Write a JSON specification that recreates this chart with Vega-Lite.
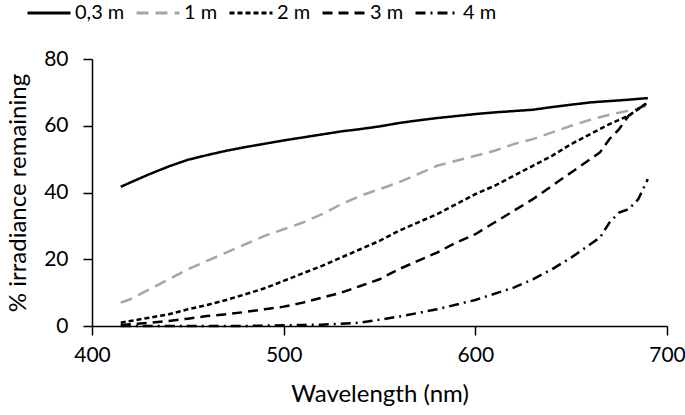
{
  "$schema": "https://vega.github.io/schema/vega-lite/v6.json",
  "width": 575,
  "height": 267,
  "autosize": {"type": "none"},
  "padding": {"left": 92, "top": 59, "right": 18, "bottom": 89},
  "background": "white",
  "config": {
    "view": {"stroke": null},
    "font": "Lato",
    "axis": {"grid": false, "domainColor": "#000", "tickColor": "#000", "domainWidth": 1.5, "tickWidth": 1.5, "tickSize": 9, "labelColor": "#000", "titleColor": "#000", "labelFont": "Lato", "titleFont": "Lato", "labelFontSize": 21, "titleFontSize": 24, "titleFontWeight": "normal", "labelFlush": false, "labelOverlap": false}
  },
  "datasets": {
    "d": [
      {"depth": "0,3 m", "wl": 415, "v": 41.7}, {"depth": "0,3 m", "wl": 420, "v": 43}, {"depth": "0,3 m", "wl": 430, "v": 45.5}, {"depth": "0,3 m", "wl": 440, "v": 47.8}, {"depth": "0,3 m", "wl": 450, "v": 49.8}, {"depth": "0,3 m", "wl": 460, "v": 51.2}, {"depth": "0,3 m", "wl": 470, "v": 52.5}, {"depth": "0,3 m", "wl": 480, "v": 53.6}, {"depth": "0,3 m", "wl": 490, "v": 54.6}, {"depth": "0,3 m", "wl": 500, "v": 55.6}, {"depth": "0,3 m", "wl": 510, "v": 56.5}, {"depth": "0,3 m", "wl": 520, "v": 57.4}, {"depth": "0,3 m", "wl": 530, "v": 58.3}, {"depth": "0,3 m", "wl": 540, "v": 59}, {"depth": "0,3 m", "wl": 550, "v": 59.8}, {"depth": "0,3 m", "wl": 560, "v": 60.8}, {"depth": "0,3 m", "wl": 570, "v": 61.6}, {"depth": "0,3 m", "wl": 580, "v": 62.3}, {"depth": "0,3 m", "wl": 590, "v": 62.9}, {"depth": "0,3 m", "wl": 600, "v": 63.5}, {"depth": "0,3 m", "wl": 610, "v": 64}, {"depth": "0,3 m", "wl": 620, "v": 64.4}, {"depth": "0,3 m", "wl": 630, "v": 64.8}, {"depth": "0,3 m", "wl": 640, "v": 65.6}, {"depth": "0,3 m", "wl": 650, "v": 66.3}, {"depth": "0,3 m", "wl": 660, "v": 67}, {"depth": "0,3 m", "wl": 670, "v": 67.4}, {"depth": "0,3 m", "wl": 680, "v": 67.8}, {"depth": "0,3 m", "wl": 690, "v": 68.3},
      {"depth": "1 m", "wl": 415, "v": 7}, {"depth": "1 m", "wl": 420, "v": 8}, {"depth": "1 m", "wl": 430, "v": 11}, {"depth": "1 m", "wl": 440, "v": 14}, {"depth": "1 m", "wl": 450, "v": 17}, {"depth": "1 m", "wl": 460, "v": 19.5}, {"depth": "1 m", "wl": 470, "v": 22}, {"depth": "1 m", "wl": 480, "v": 24.5}, {"depth": "1 m", "wl": 490, "v": 27}, {"depth": "1 m", "wl": 500, "v": 29}, {"depth": "1 m", "wl": 510, "v": 31}, {"depth": "1 m", "wl": 520, "v": 33.5}, {"depth": "1 m", "wl": 530, "v": 36.5}, {"depth": "1 m", "wl": 540, "v": 39}, {"depth": "1 m", "wl": 550, "v": 41}, {"depth": "1 m", "wl": 560, "v": 43}, {"depth": "1 m", "wl": 570, "v": 45.5}, {"depth": "1 m", "wl": 580, "v": 48}, {"depth": "1 m", "wl": 590, "v": 49.5}, {"depth": "1 m", "wl": 600, "v": 51}, {"depth": "1 m", "wl": 610, "v": 52.5}, {"depth": "1 m", "wl": 620, "v": 54.5}, {"depth": "1 m", "wl": 630, "v": 56}, {"depth": "1 m", "wl": 640, "v": 58}, {"depth": "1 m", "wl": 650, "v": 60}, {"depth": "1 m", "wl": 660, "v": 61.8}, {"depth": "1 m", "wl": 670, "v": 63.3}, {"depth": "1 m", "wl": 680, "v": 64.5}, {"depth": "1 m", "wl": 690, "v": 66},
      {"depth": "2 m", "wl": 415, "v": 1}, {"depth": "2 m", "wl": 420, "v": 1.5}, {"depth": "2 m", "wl": 430, "v": 2.5}, {"depth": "2 m", "wl": 440, "v": 3.5}, {"depth": "2 m", "wl": 450, "v": 5}, {"depth": "2 m", "wl": 460, "v": 6.3}, {"depth": "2 m", "wl": 470, "v": 7.8}, {"depth": "2 m", "wl": 480, "v": 9.5}, {"depth": "2 m", "wl": 490, "v": 11.3}, {"depth": "2 m", "wl": 500, "v": 13.5}, {"depth": "2 m", "wl": 510, "v": 15.8}, {"depth": "2 m", "wl": 520, "v": 18}, {"depth": "2 m", "wl": 530, "v": 20.5}, {"depth": "2 m", "wl": 540, "v": 23}, {"depth": "2 m", "wl": 550, "v": 25.5}, {"depth": "2 m", "wl": 560, "v": 28.5}, {"depth": "2 m", "wl": 570, "v": 31}, {"depth": "2 m", "wl": 580, "v": 33.5}, {"depth": "2 m", "wl": 590, "v": 36.5}, {"depth": "2 m", "wl": 600, "v": 39.5}, {"depth": "2 m", "wl": 610, "v": 42}, {"depth": "2 m", "wl": 620, "v": 45}, {"depth": "2 m", "wl": 630, "v": 48}, {"depth": "2 m", "wl": 640, "v": 51}, {"depth": "2 m", "wl": 650, "v": 54.5}, {"depth": "2 m", "wl": 660, "v": 57.5}, {"depth": "2 m", "wl": 670, "v": 60.5}, {"depth": "2 m", "wl": 680, "v": 63}, {"depth": "2 m", "wl": 690, "v": 67},
      {"depth": "3 m", "wl": 415, "v": 0.3}, {"depth": "3 m", "wl": 420, "v": 0.5}, {"depth": "3 m", "wl": 430, "v": 1}, {"depth": "3 m", "wl": 440, "v": 1.5}, {"depth": "3 m", "wl": 450, "v": 2.2}, {"depth": "3 m", "wl": 460, "v": 3}, {"depth": "3 m", "wl": 470, "v": 3.5}, {"depth": "3 m", "wl": 480, "v": 4.2}, {"depth": "3 m", "wl": 490, "v": 5}, {"depth": "3 m", "wl": 500, "v": 5.8}, {"depth": "3 m", "wl": 510, "v": 7}, {"depth": "3 m", "wl": 520, "v": 8.5}, {"depth": "3 m", "wl": 530, "v": 10}, {"depth": "3 m", "wl": 540, "v": 12}, {"depth": "3 m", "wl": 550, "v": 14}, {"depth": "3 m", "wl": 560, "v": 17}, {"depth": "3 m", "wl": 570, "v": 19.5}, {"depth": "3 m", "wl": 580, "v": 22}, {"depth": "3 m", "wl": 590, "v": 25}, {"depth": "3 m", "wl": 600, "v": 27.5}, {"depth": "3 m", "wl": 610, "v": 31}, {"depth": "3 m", "wl": 620, "v": 34.5}, {"depth": "3 m", "wl": 630, "v": 38}, {"depth": "3 m", "wl": 640, "v": 42}, {"depth": "3 m", "wl": 650, "v": 46}, {"depth": "3 m", "wl": 660, "v": 50}, {"depth": "3 m", "wl": 665, "v": 52}, {"depth": "3 m", "wl": 670, "v": 56}, {"depth": "3 m", "wl": 675, "v": 59}, {"depth": "3 m", "wl": 680, "v": 63}, {"depth": "3 m", "wl": 685, "v": 65}, {"depth": "3 m", "wl": 690, "v": 67},
      {"depth": "4 m", "wl": 415, "v": 0}, {"depth": "4 m", "wl": 440, "v": 0}, {"depth": "4 m", "wl": 460, "v": 0}, {"depth": "4 m", "wl": 480, "v": 0}, {"depth": "4 m", "wl": 500, "v": 0.2}, {"depth": "4 m", "wl": 520, "v": 0.4}, {"depth": "4 m", "wl": 540, "v": 1}, {"depth": "4 m", "wl": 560, "v": 2.8}, {"depth": "4 m", "wl": 580, "v": 5}, {"depth": "4 m", "wl": 600, "v": 7.8}, {"depth": "4 m", "wl": 620, "v": 11.5}, {"depth": "4 m", "wl": 630, "v": 14}, {"depth": "4 m", "wl": 640, "v": 17}, {"depth": "4 m", "wl": 650, "v": 20.5}, {"depth": "4 m", "wl": 660, "v": 24.5}, {"depth": "4 m", "wl": 665, "v": 26.5}, {"depth": "4 m", "wl": 670, "v": 31}, {"depth": "4 m", "wl": 675, "v": 34}, {"depth": "4 m", "wl": 680, "v": 35}, {"depth": "4 m", "wl": 685, "v": 38}, {"depth": "4 m", "wl": 690, "v": 44}
    ]
  },
  "data": {"name": "d"},
  "mark": {"type": "line", "strokeWidth": 2.5, "clip": false},
  "encoding": {
    "x": {"field": "wl", "type": "quantitative", "title": "Wavelength (nm)", "scale": {"domain": [400, 700], "nice": false, "zero": false}, "axis": {"values": [400, 500, 600, 700], "titlePadding": 17, "labelPadding": 9}},
    "y": {"field": "v", "type": "quantitative", "title": "% irradiance remaining", "scale": {"domain": [0, 80], "nice": false}, "axis": {"values": [0, 20, 40, 60, 80], "titlePadding": 13, "labelPadding": 15}},
    "color": {"field": "depth", "type": "nominal", "scale": {"domain": ["0,3 m", "1 m", "2 m", "3 m", "4 m"], "range": ["#000000", "#a6a6a6", "#000000", "#000000", "#000000"]},
      "legend": {"title": null, "orient": "none", "legendX": -66, "legendY": -69, "direction": "horizontal", "symbolType": "stroke", "symbolSize": 1850, "symbolStrokeWidth": 2.8, "labelFontSize": 20, "labelFont": "Lato", "labelColor": "#000", "labelOffset": 3, "columnPadding": 5}},
    "strokeDash": {"field": "depth", "type": "nominal", "scale": {"domain": ["0,3 m", "1 m", "2 m", "3 m", "4 m"], "range": [[1, 0], [12, 7], [5, 3], [10, 6], [10, 5, 2, 5]]},
      "legend": {"title": null, "orient": "none", "legendX": -66, "legendY": -69, "direction": "horizontal", "symbolType": "stroke", "symbolSize": 1850, "symbolStrokeWidth": 2.8, "labelFontSize": 20, "labelFont": "Lato", "labelColor": "#000", "labelOffset": 3, "columnPadding": 5}}
  }
}
